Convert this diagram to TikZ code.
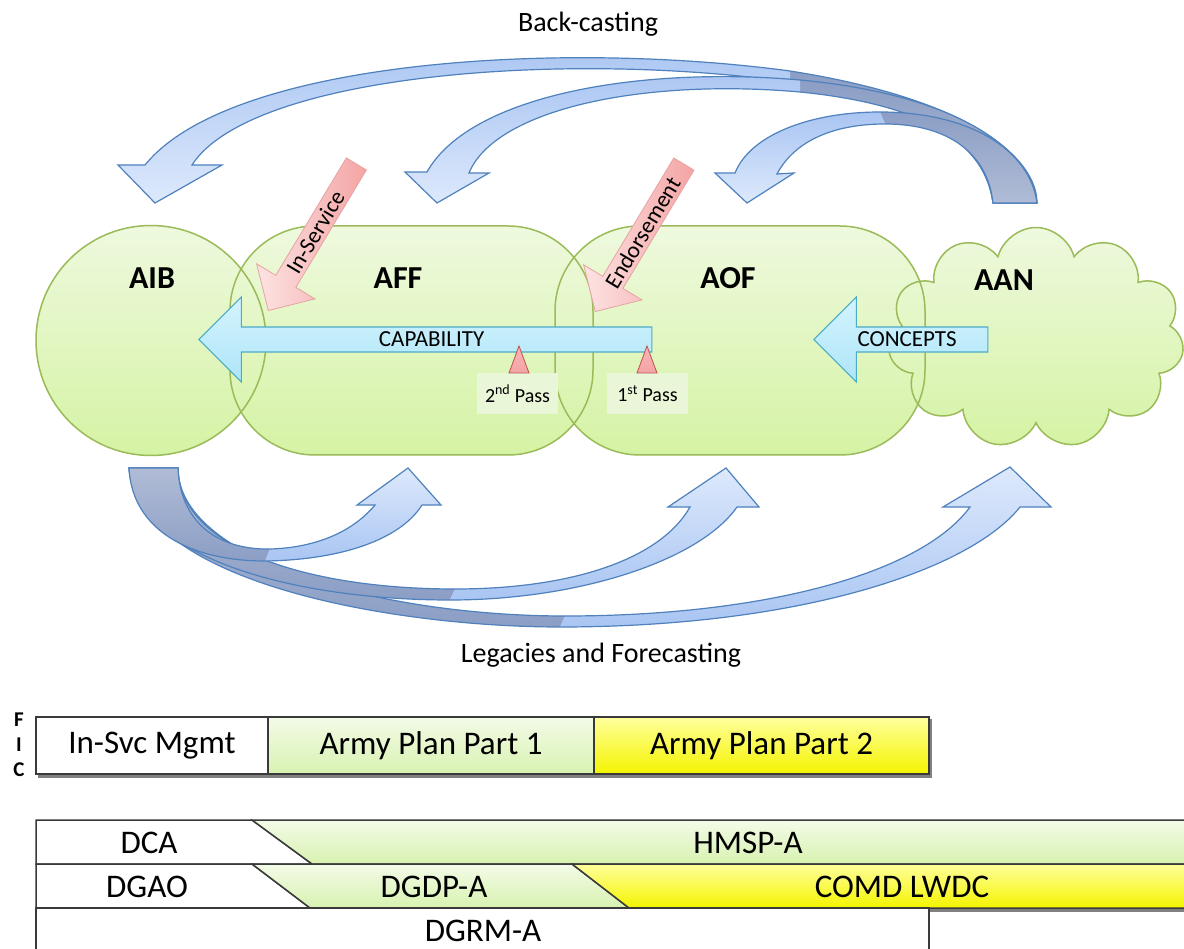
\documentclass[tikz,border=0pt]{standalone}
\usepackage{fontspec}
\setmainfont{Carlito}
\usetikzlibrary{shapes.arrows,shapes.symbols,positioning}

\definecolor{blobtop}{HTML}{EEF9DE}
\definecolor{blobbot}{HTML}{D5F3A4}
\definecolor{blobline}{HTML}{9BBB59}
\definecolor{arcline}{HTML}{4F81BD}
\definecolor{arclight}{HTML}{DDE9FC}
\definecolor{arcmid}{HTML}{A9C5F2}
\definecolor{arcdark}{HTML}{8C9EC5}
\definecolor{arcpale}{HTML}{B0BCD6}
\definecolor{capline}{HTML}{4BACC6}
\definecolor{captop}{HTML}{D4F4FE}
\definecolor{capbot}{HTML}{AEE5F8}
\definecolor{pinkdark}{HTML}{F4A4A4}
\definecolor{pinklight}{HTML}{FDE3E3}
\definecolor{pinkline}{HTML}{E8A2A2}
\definecolor{passfill}{HTML}{EAF6D8}
\definecolor{passline}{HTML}{C0504D}
\definecolor{cellgreentop}{HTML}{F3FBE8}
\definecolor{cellgreenbot}{HTML}{D8F2B0}
\definecolor{cellyellowtop}{HTML}{FFFF9C}
\definecolor{cellyellowbot}{HTML}{F4F400}
\definecolor{tableline}{HTML}{3A3A3A}

\tikzset{
  blobfill/.style={top color=blobtop, bottom color=blobbot, inner sep=0pt, outer sep=0pt},
  blobedge/.style={draw=blobline, line width=1.5pt, inner sep=0pt, outer sep=0pt},
  blobname/.style={font=\bfseries\fontsize{32}{34}\selectfont},
  arcedge/.style={draw=arcline, line width=1.2pt},
  arcfront/.style={top color=arcmid, bottom color=arclight},
  arcbackup/.style={top color=arcdark, bottom color=arcpale},
  arcfrontdown/.style={top color=arclight, bottom color=arcmid},
  arcbackdown/.style={top color=arcpale, bottom color=arcdark},
  caparrow/.style={single arrow, shape border rotate=180, draw=capline, line width=1.2pt,
    top color=captop, bottom color=capbot, inner sep=0pt, minimum width=85pt,
    single arrow head extend=19.5pt, font=\fontsize{23}{25}\selectfont},
  pinkarrow/.style={single arrow, shape border rotate=180, draw=pinkline, line width=0.8pt,
    left color=pinklight, right color=pinkdark, inner sep=0pt, minimum width=68pt,
    single arrow head extend=16pt, font=\fontsize{23}{25}\selectfont},
  passmark/.style={draw=passline, line width=0.8pt, top color=pinkdark!80!red!60, bottom color=pinkdark},
  passbox/.style={fill=passfill, minimum width=81pt, minimum height=41pt, inner sep=0pt,
    font=\fontsize{20}{22}\selectfont},
  caption/.style={font=\fontsize{28}{30}\selectfont},
  cell/.style={draw=tableline, line width=1.5pt, inner sep=0pt, outer sep=0pt,
    minimum height=57pt, font=\fontsize{33}{35}\selectfont},
  tableedge/.style={draw=tableline, line width=1.5pt},
  greencell/.style={top color=cellgreentop, bottom color=cellgreenbot},
  yellowcell/.style={top color=cellyellowtop, bottom color=cellyellowbot},
  celltext/.style={font=\fontsize{33}{35}\selectfont},
}

\begin{document}
\begin{tikzpicture}[x=1pt,y=-1pt]
  \useasboundingbox[fill=white] (0,0) rectangle (1184,949);

  % bubbles: fills first, then outlines
  \node[blobfill, cloud, cloud puffs=11, aspect=1.33, minimum width=296pt, minimum height=221pt] (aan) at (1036,338) {};
  \node[blobfill, rectangle, rounded corners=85pt, minimum width=370pt, minimum height=229pt] (aof) at (740,340.5) {};
  \node[blobfill, rectangle, rounded corners=85pt, minimum width=363pt, minimum height=229pt] (aff) at (411.5,340.5) {};
  \node[blobfill, circle, minimum size=230pt] (aib) at (151,340.5) {};
  \node[blobedge, cloud, cloud puffs=11, aspect=1.33, minimum width=296pt, minimum height=221pt] (aanedge) at (aan) {};
  \node[blobedge, rectangle, rounded corners=85pt, minimum width=370pt, minimum height=229pt] (aofedge) at (aof) {};
  \node[blobedge, rectangle, rounded corners=85pt, minimum width=363pt, minimum height=229pt] (affedge) at (aff) {};
  \node[blobedge, circle, minimum size=230pt] (aibedge) at (aib) {};

  \node[blobname, anchor=base] (aibname) at (152,289) {AIB};
  \node[blobname, anchor=base] (affname) at (398,289) {AFF};
  \node[blobname, anchor=base] (aofname) at (728,289) {AOF};
  \node[blobname, anchor=base] (aanname) at (1004,291) {AAN};

  % back-casting arcs
  \path[arcbackup] (1037,203) .. controls (1037,160) and (975,100) .. (790,71)
    -- (790,82) .. controls (920,100) and (985,140) .. (993,203) -- cycle;
  \path[arcfront] (790,71) .. controls (560,40) and (230,60) .. (145,165)
    -- (118,165) -- (155,203) -- (222,165) -- (192,165)
    .. controls (250,75) and (560,50) .. (790,82) -- cycle;
  \path[arcedge] (1037,203) .. controls (1037,160) and (975,100) .. (790,71)
    .. controls (560,40) and (230,60) .. (145,165)
    -- (118,165) -- (155,203) -- (222,165) -- (192,165)
    .. controls (250,75) and (560,50) .. (790,82)
    .. controls (920,100) and (985,140) .. (993,203) -- cycle;
  \path[arcbackup] (1037,203) .. controls (1030,150) and (960,95) .. (800,80)
    -- (800,92) .. controls (930,105) and (985,145) .. (993,203) -- cycle;
  \path[arcfront] (800,80) .. controls (640,66) and (470,95) .. (427,172)
    -- (405,172) -- (437,203) -- (489,173) -- (469,173)
    .. controls (495,110) and (640,78) .. (800,92) -- cycle;
  \path[arcedge] (1037,203) .. controls (1030,150) and (960,95) .. (800,80)
    .. controls (640,66) and (470,95) .. (427,172)
    -- (405,172) -- (437,203) -- (489,173) -- (469,173)
    .. controls (495,110) and (640,78) .. (800,92)
    .. controls (930,105) and (985,145) .. (993,203) -- cycle;
  \path[arcbackup] (1037,203) .. controls (1030,150) and (970,112) .. (880,112)
    -- (885,124) .. controls (950,124) and (988,155) .. (993,203) -- cycle;
  \path[arcfront] (880,112) .. controls (810,112) and (750,135) .. (735,173)
    -- (715,173) -- (747,203) -- (794,173) -- (777,174)
    .. controls (795,140) and (835,124) .. (885,124) -- cycle;
  \path[arcedge] (1037,203) .. controls (1030,150) and (970,112) .. (880,112)
    .. controls (810,112) and (750,135) .. (735,173)
    -- (715,173) -- (747,203) -- (794,173) -- (777,174)
    .. controls (795,140) and (835,124) .. (885,124)
    .. controls (950,124) and (988,155) .. (993,203) -- cycle;
  \node[caption, anchor=base] (backcasting) at (588,32) {Back-casting};

  % legacies and forecasting arcs
  \path[arcbackdown] (129,468) .. controls (140,585) and (400,627) .. (560,627)
    -- (565,616) .. controls (380,616) and (178,560) .. (178,468) -- cycle;
  \path[arcfrontdown] (560,627) .. controls (800,627) and (970,570) .. (1020,507)
    -- (1051,507) -- (1010,467) -- (943,507) -- (970,507)
    .. controls (920,575) and (760,616) .. (565,616) -- cycle;
  \path[arcedge] (129,468) .. controls (140,585) and (400,627) .. (560,627)
    .. controls (800,627) and (970,570) .. (1020,507)
    -- (1051,507) -- (1010,467) -- (943,507) -- (970,507)
    .. controls (920,575) and (760,616) .. (565,616)
    .. controls (380,616) and (178,560) .. (178,468) -- cycle;
  \path[arcbackdown] (129,468) .. controls (135,560) and (300,600) .. (450,600)
    -- (455,589) .. controls (300,589) and (178,545) .. (178,468) -- cycle;
  \path[arcfrontdown] (450,600) .. controls (580,600) and (700,560) .. (737,507)
    -- (759,507) -- (726,468) -- (668,507) -- (690,507)
    .. controls (660,560) and (570,589) .. (455,589) -- cycle;
  \path[arcedge] (129,468) .. controls (135,560) and (300,600) .. (450,600)
    .. controls (580,600) and (700,560) .. (737,507)
    -- (759,507) -- (726,468) -- (668,507) -- (690,507)
    .. controls (660,560) and (570,589) .. (455,589)
    .. controls (300,589) and (178,545) .. (178,468) -- cycle;
  \path[arcbackdown] (129,468) .. controls (132,530) and (190,561) .. (265,561)
    -- (270,549) .. controls (215,550) and (180,520) .. (178,468) -- cycle;
  \path[arcfrontdown] (265,561) .. controls (340,560) and (400,540) .. (422,505)
    -- (441,505) -- (408,468) -- (357,505) -- (375,505)
    .. controls (350,535) and (310,548) .. (270,549) -- cycle;
  \path[arcedge] (129,468) .. controls (132,530) and (190,561) .. (265,561)
    .. controls (340,560) and (400,540) .. (422,505)
    -- (441,505) -- (408,468) -- (357,505) -- (375,505)
    .. controls (350,535) and (310,548) .. (270,549)
    .. controls (215,550) and (180,520) .. (178,468) -- cycle;
  \node[caption, anchor=base] (legacies) at (601,662) {Legacies and Forecasting};

  % capability and concepts
  \node[caparrow, minimum height=453pt, anchor=tip] (capability) at (198,339.5) {CAPABILITY};
  \node[caparrow, minimum height=174pt, anchor=tip] (concepts) at (813,339.5) {CONCEPTS};

  % in-service and endorsement
  \node[pinkarrow, rotate=59, minimum height=171pt, anchor=tip] (inservice) at (268,311) {In-Service};
  \node[pinkarrow, rotate=59, minimum height=172pt, anchor=tip] (endorsement) at (595,312) {Endorsement};

  % passes
  \node[passbox] (passtwo) at (517.5,393.5) {2\textsuperscript{nd} Pass};
  \node[passbox] (passone) at (647.5,393.5) {1\textsuperscript{st} Pass};
  \path[passmark] (509,373) -- (519,346) -- (529,373) -- cycle;
  \path[passmark] (637,373) -- (647,346) -- (657,373) -- cycle;

  % fic row
  \node[font=\bfseries\fontsize{21}{25}\selectfont, align=center] (fic) at (19,745) {F\\I\\C};
  \draw[line width=3pt, gray] (38,776) -- (930,776) -- (930,719);
  \node[cell, fill=white, minimum width=232pt] (insvc) at (152,745.5) {In-Svc Mgmt};
  \node[cell, greencell, minimum width=326pt, right=0pt of insvc] (planone) {Army Plan Part 1};
  \node[cell, yellowcell, minimum width=335pt, right=0pt of planone] (plantwo) {Army Plan Part 2};

  % staff rows
  \draw[line width=3pt, gray] (929,910) -- (1190,910);
  \path[tableedge, fill=white] (36,820) -- (252,820) -- (312,864) -- (36,864) -- cycle;
  \path[tableedge, greencell] (252,820) -- (1190,820) -- (1190,864) -- (312,864) -- cycle;
  \path[tableedge, fill=white] (36,864) -- (252,864) -- (310,908) -- (36,908) -- cycle;
  \path[tableedge, greencell] (252,864) -- (572,864) -- (629,908) -- (310,908) -- cycle;
  \path[tableedge, yellowcell] (572,864) -- (1190,864) -- (1190,908) -- (629,908) -- cycle;
  \path[tableedge, fill=white] (36,908) -- (929,908) -- (929,956) -- (36,956) -- cycle;
  \node[celltext] (dca) at (149,843) {DCA};
  \node[celltext] (hmsp) at (748,843) {HMSP-A};
  \node[celltext] (dgao) at (147,887) {DGAO};
  \node[celltext] (dgdp) at (434,887) {DGDP-A};
  \node[celltext] (comd) at (902,887) {COMD LWDC};
  \node[celltext] (dgrm) at (483,931) {DGRM-A};
\end{tikzpicture}
\end{document}
